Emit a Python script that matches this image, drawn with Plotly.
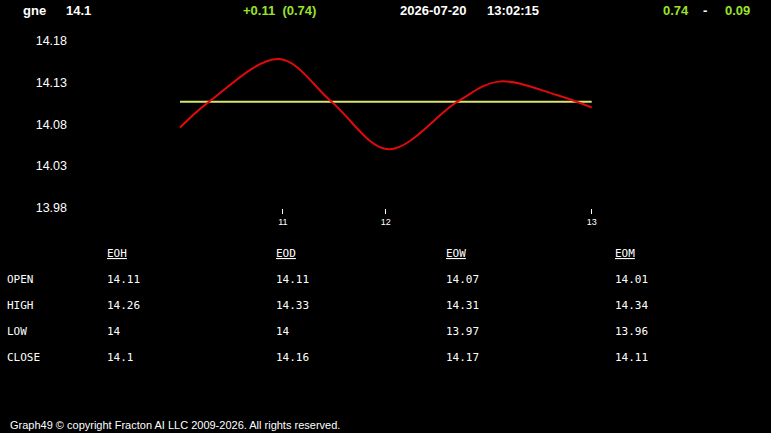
import plotly.graph_objects as go

W, H = 771, 433

# ---- data ----
symbol = "gne"
last_price = "14.1"
change_text = "+0.11  (0.74)"
timestamp_date = "2026-07-20"
timestamp_time = "13:02:15"
range_low_text = "0.74"
range_high_text = "0.09"

# intraday curve (x = relative session position 0..100)
curve_x = [0, 7.1, 24.1, 36.8, 50.6, 67.4, 77.3, 91.5, 100]
curve_y = [14.076, 14.107, 14.158, 14.107, 14.050, 14.107, 14.131, 14.115, 14.100]
ref_level = 14.107

x_tick_vals = [25, 50, 100]
x_tick_text = ["11", "12", "13"]
y_tick_vals = [14.18, 14.13, 14.08, 14.03, 13.98]
y_tick_text = ["14.18", "14.13", "14.08", "14.03", "13.98"]

table_columns = ["EOH", "EOD", "EOW", "EOM"]
table_rows = ["OPEN", "HIGH", "LOW", "CLOSE"]
table_values = [
    ["14.11", "14.11", "14.07", "14.01"],
    ["14.26", "14.33", "14.31", "14.34"],
    ["14", "14", "13.97", "13.96"],
    ["14.1", "14.16", "14.17", "14.11"],
]
footer = "Graph49 \u00a9 copyright Fracton AI LLC 2009-2026. All rights reserved."

# ---- layout helpers ----
plot_left, plot_right, plot_top, plot_bottom = 68, 700, 30, 208
x0_px, x100_px = 180, 591.7
px_per_unit = (x100_px - x0_px) / 100.0
x_range = [(plot_left - x0_px) / px_per_unit, (plot_right - x0_px) / px_per_unit]
y_top_val_px, y_scale = 40.7, 835.0
y_range = [14.18 - (plot_bottom - y_top_val_px) / y_scale,
           14.18 + (y_top_val_px - plot_top) / y_scale]

def px(x):
    return x / W

def py(y):
    return 1 - y / H

GREEN = "#9be22d"
WHITE = "#ffffff"
SANS = "Liberation Sans, Arial, sans-serif"
MONO = "DejaVu Sans Mono, Liberation Mono, monospace"

fig = go.Figure()
fig.add_trace(go.Scatter(x=[curve_x[0], curve_x[-1]], y=[ref_level, ref_level], mode="lines",
                         line=dict(color="#d9e36f", width=2), hoverinfo="skip"))
fig.add_trace(go.Scatter(x=curve_x, y=curve_y, mode="lines",
                         line=dict(color="#e00a0a", width=2, shape="spline", smoothing=1.0),
                         hoverinfo="skip"))

ann = []
def text(x, y, s, color=WHITE, size=13, family=SANS, bold=False, anchor="left"):
    ann.append(dict(x=px(x - (2 if anchor == "left" else 0)), y=py(y), xref="paper", yref="paper",
                    text=("<b>%s</b>" % s) if bold else s,
                    showarrow=False, xanchor=anchor, yanchor="middle",
                    font=dict(color=color, size=size, family=family)))

# header
text(23, 10, symbol, bold=True)
text(66, 10, last_price, bold=True)
text(243, 10, change_text, color=GREEN, bold=True)
text(400, 10, timestamp_date, bold=True)
text(487, 10, timestamp_time, bold=True)
text(663, 10, range_low_text, color=GREEN, bold=True)
text(704.5, 10, "-", bold=True, anchor="center")
text(725, 10, range_high_text, color=GREEN, bold=True)

# table
col_x = [107, 276, 446, 615]
row_y = [279, 305, 331, 357]
for cx, name in zip(col_x, table_columns):
    text(cx, 253, "<u>%s</u>" % name, size=11, family=MONO)
for ry, rname, vals in zip(row_y, table_rows, table_values):
    text(7, ry, rname, size=11, family=MONO)
    for cx, v in zip(col_x, vals):
        text(cx, ry, v, size=11, family=MONO)

# footer
text(10, 425, footer, size=11)

fig.update_layout(
    width=W, height=H, margin=dict(l=0, r=0, t=0, b=0, pad=0, autoexpand=False),
    paper_bgcolor="black", plot_bgcolor="black", showlegend=False,
    annotations=ann,
    xaxis=dict(domain=[px(plot_left), px(plot_right)], range=x_range, showgrid=False, zeroline=False,
               showline=False, tickmode="array", tickvals=x_tick_vals, ticktext=x_tick_text,
               ticks="outside", ticklen=5, tickwidth=1, tickcolor=WHITE,
               tickfont=dict(color=WHITE, size=9, family=SANS)),
    yaxis=dict(domain=[py(plot_bottom), py(plot_top)], range=y_range, showgrid=False,
               zeroline=False, showline=False, tickmode="array", tickvals=y_tick_vals,
               ticktext=y_tick_text, ticks="", tickfont=dict(color=WHITE, size=12.5, family=SANS)),
)

fig.write_html("out.html")
